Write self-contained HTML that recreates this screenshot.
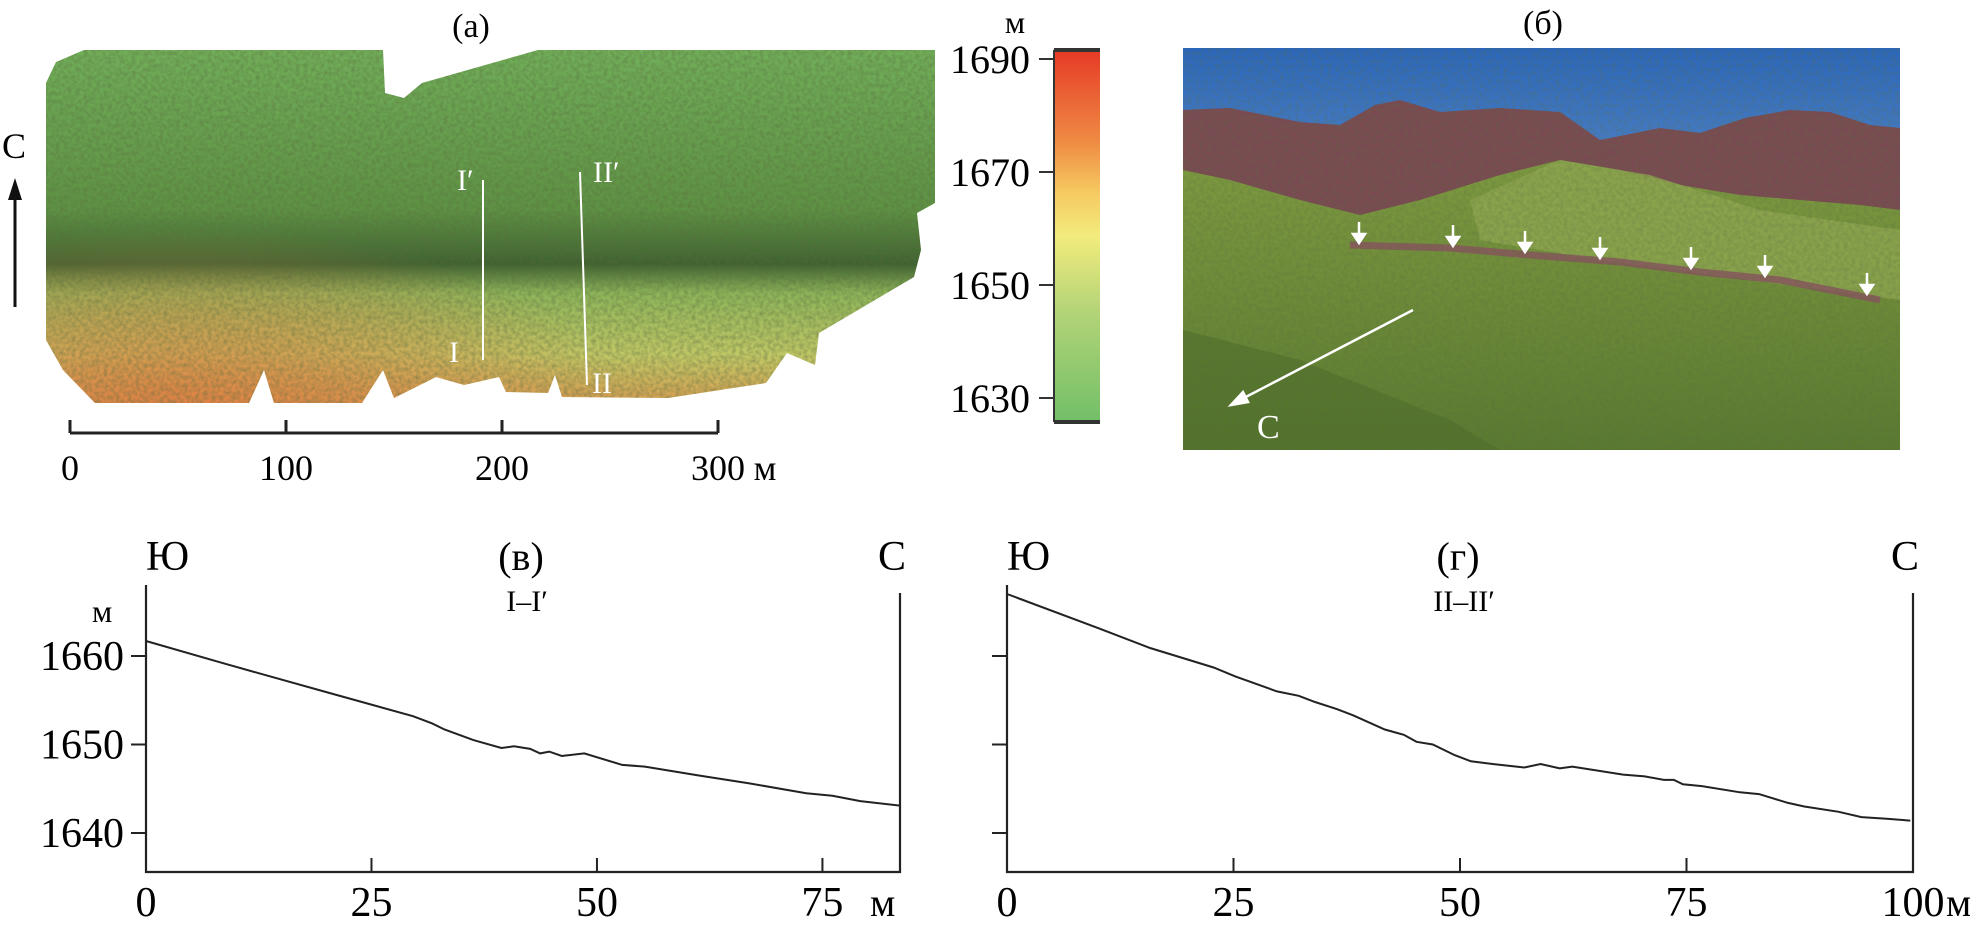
<!DOCTYPE html>
<html><head><meta charset="utf-8"><style>
html,body{margin:0;padding:0;background:#fff;}
svg{display:block;font-family:"Liberation Serif","DejaVu Serif",serif;}
</style></head><body>
<svg id="fig" width="1970" height="930" viewBox="0 0 1970 930" xmlns="http://www.w3.org/2000/svg">
<defs>
<linearGradient id="mapg" x1="0" y1="0" x2="0" y2="1">
<stop offset="0" stop-color="#72b05a"/><stop offset="0.45" stop-color="#5e9244"/>
<stop offset="0.6" stop-color="#3f6230"/><stop offset="0.68" stop-color="#8eb55a"/>
<stop offset="0.85" stop-color="#c2c866"/><stop offset="1" stop-color="#d89850"/>
</linearGradient>
<radialGradient id="orng" cx="0.15" cy="1" r="0.5"><stop offset="0" stop-color="#e07a40" stop-opacity="0.8"/><stop offset="1" stop-color="#e07a40" stop-opacity="0"/></radialGradient>
<filter id="tex" x="0" y="0" width="1" height="1"><feTurbulence type="fractalNoise" baseFrequency="0.25" numOctaves="2" seed="3"/><feColorMatrix values="0 0 0 0 0.1 0 0 0 0 0.15 0 0 0 0 0.05 0 0 0 -1.6 1.1"/></filter>
<clipPath id="mapclip"><polygon points="56,62 84,50 383,50 385,93 404,98 422,83 538,50 935,50 935,203 917,213 921,250 914,277 819,333 815,365 787,353 766,383 668,398 562,397 555,375 548,393 506,392 499,377 464,385 436,377 394,398 383,370 362,403 274,403 264,370 249,403 95,403 63,370 46,340 46,83"/></clipPath>
<clipPath id="photoclip"><rect x="1183" y="48" width="717" height="402"/></clipPath>
<linearGradient id="cbar" x1="0" y1="1" x2="0" y2="0">
<stop offset="0" stop-color="#72bf68"/><stop offset="0.3" stop-color="#b4d477"/><stop offset="0.5" stop-color="#f2ec7c"/>
<stop offset="0.62" stop-color="#f6c860"/><stop offset="0.75" stop-color="#ef8c44"/><stop offset="1" stop-color="#e63a26"/>
</linearGradient>
<linearGradient id="sky" x1="0" y1="0" x2="0" y2="1"><stop offset="0" stop-color="#2a66bd"/><stop offset="1" stop-color="#9cc1e4"/></linearGradient>
<linearGradient id="grass" x1="0" y1="0" x2="0" y2="1"><stop offset="0" stop-color="#7e9a40"/><stop offset="1" stop-color="#5a7a30"/></linearGradient>
</defs>

<!-- Panel a -->
<text x="471" y="37" font-size="34" text-anchor="middle">(а)</text>
<g clip-path="url(#mapclip)">
<rect x="40" y="45" width="900" height="365" fill="url(#mapg)"/>
<rect x="40" y="45" width="900" height="365" fill="url(#orng)"/>
<rect x="40" y="45" width="900" height="365" filter="url(#tex)" opacity="0.5"/>
</g>
<line x1="483" y1="180" x2="483" y2="360" stroke="#fff" stroke-width="2"/>
<line x1="580" y1="172" x2="587" y2="385" stroke="#fff" stroke-width="2"/>
<g fill="#fff" font-size="30">
<text x="457" y="190">I′</text><text x="593" y="182">II′</text>
<text x="449" y="362">I</text><text x="592" y="393">II</text></g>
<text x="2" y="158" font-size="36">С</text>
<line x1="15" y1="307" x2="15" y2="195" stroke="#111" stroke-width="3"/>
<polygon points="15,178 8,200 22,200" fill="#111"/>
<g stroke="#222" stroke-width="3">
<line x1="70" y1="433" x2="718" y2="433"/>
<line x1="70" y1="420" x2="70" y2="433"/><line x1="286" y1="420" x2="286" y2="433"/>
<line x1="502" y1="420" x2="502" y2="433"/><line x1="718" y1="420" x2="718" y2="433"/></g>
<g font-size="36" text-anchor="middle">
<text x="70" y="480">0</text><text x="286" y="480">100</text><text x="502" y="480">200</text><text x="718" y="480">300</text>
<text x="765" y="480">м</text></g>

<!-- colorbar -->
<text x="1015" y="33" font-size="32" text-anchor="middle">м</text>
<rect x="1054" y="50" width="46" height="372" fill="url(#cbar)"/>
<line x1="1054" y1="50" x2="1100" y2="50" stroke="#333" stroke-width="4"/>
<line x1="1054" y1="422" x2="1100" y2="422" stroke="#333" stroke-width="4"/>
<line x1="1054" y1="50" x2="1054" y2="422" stroke="#333" stroke-width="2"/>
<g id="cbticks" font-size="40" text-anchor="end"></g>

<!-- Panel b photo -->
<text x="1543" y="34" font-size="34" text-anchor="middle">(б)</text>
<g clip-path="url(#photoclip)">
<rect x="1183" y="48" width="717" height="402" fill="url(#sky)"/>
<polygon points="1183,110 1230,108 1300,122 1340,125 1375,105 1400,100 1440,112 1500,108 1560,112 1600,140 1660,128 1700,133 1745,118 1790,110 1830,112 1870,125 1900,128 1900,240 1183,240" fill="#7a4a52"/>
<polygon points="1183,240 1183,170 1230,180 1300,200 1360,215 1420,200 1500,175 1560,160 1620,170 1680,185 1740,195 1800,200 1860,205 1900,210 1900,450 1183,450" fill="url(#grass)"/>
<polygon points="1470,200 1560,160 1650,175 1760,210 1900,230 1900,300 1600,260 1480,240" fill="#8ea650" opacity="0.8"/>
<polygon points="1183,450 1183,330 1300,360 1450,420 1500,450" fill="#4f6e2a" opacity="0.6"/>
<polyline points="1350,245 1450,248 1530,255 1620,262 1700,272 1780,280 1880,300" fill="none" stroke="#8a5060" stroke-width="7" opacity="0.8"/>
<rect x="1183" y="48" width="717" height="402" filter="url(#tex)" opacity="0.35"/>
<g stroke="#fff" stroke-width="2.5" fill="#fff">
<line x1="1359" y1="222" x2="1359" y2="236"/><polygon points="1353,234 1365,234 1359,243"/>
<line x1="1453" y1="225" x2="1453" y2="239"/><polygon points="1447,237 1459,237 1453,246"/>
<line x1="1525" y1="231" x2="1525" y2="245"/><polygon points="1519,243 1531,243 1525,252"/>
<line x1="1600" y1="237" x2="1600" y2="251"/><polygon points="1594,249 1606,249 1600,258"/>
<line x1="1691" y1="247" x2="1691" y2="261"/><polygon points="1685,259 1697,259 1691,268"/>
<line x1="1765" y1="255" x2="1765" y2="269"/><polygon points="1759,267 1771,267 1765,276"/>
<line x1="1867" y1="273" x2="1867" y2="287"/><polygon points="1861,285 1873,285 1867,294"/>
<line x1="1413" y1="310" x2="1240" y2="400"/><polygon points="1231,405 1243,392 1248,402"/>
</g>
<text x="1257" y="438" font-size="34" fill="#fff">С</text>
</g>

<!-- Chart в -->
<g id="chartV"></g>
<!-- Chart г -->
<g id="chartG"></g>
</svg>
<script>
const cbTicks = [1630, 1650, 1670, 1690];
const p1Dist = [0,8.5,19.7,29.6,31.7,33.1,36.3,39.4,40.8,42.6,43.7,44.7,46.1,48.6,52.8,55.3,61.3,66.9,73.2,76.1,79.2,83.6];
const p1Elev = [1661.7,1659.2,1656.0,1653.2,1652.4,1651.7,1650.5,1649.6,1649.8,1649.5,1649.0,1649.2,1648.7,1649.0,1647.7,1647.5,1646.5,1645.6,1644.5,1644.2,1643.6,1643.1];
const p2Dist = [0,10.2,15.8,22.8,25.2,29.8,32.2,34.0,36.4,38.2,41.7,43.8,45.2,47.0,49.4,51.2,53.6,57.1,58.9,61.0,62.4,68.0,70.4,72.5,73.6,74.6,76.7,80.9,83.0,86.2,88.0,91.8,94.3,97.1,99.7];
const p2Elev = [1667.0,1663.1,1660.9,1658.7,1657.7,1656.0,1655.5,1654.8,1654.0,1653.3,1651.7,1651.1,1650.3,1650.0,1648.8,1648.1,1647.8,1647.4,1647.8,1647.3,1647.5,1646.6,1646.4,1646.0,1646.0,1645.5,1645.3,1644.6,1644.4,1643.4,1643.0,1642.4,1641.8,1641.6,1641.4];
const yTicks = [1640, 1650, 1660];
const x1Ticks = [0, 25, 50, 75];
const x2Ticks = [0, 25, 50, 75, 100];

const NS = 'http://www.w3.org/2000/svg';
function mk(tag, attrs, parent, txt){const e=document.createElementNS(NS,tag);for(const k in attrs)e.setAttribute(k,attrs[k]);if(txt!==undefined)e.textContent=txt;parent.appendChild(e);return e;}

const cbg=document.getElementById('cbticks');
const cbY=v=>398-(v-1630)*(398-59)/60;
cbTicks.forEach(v=>{
  const l=mk('line',{x1:1039,y1:cbY(v),x2:1054,y2:cbY(v),stroke:'#333','stroke-width':2},cbg);
  
  
  const t=mk('text',{x:1030,y:cbY(v)+14},cbg,String(v));
  
  
});

function chart(g, x0, x1, xmax, dist, elev, xt, showY, opts){
  const yb=872, yOf=v=>656+(1660-v)*8.85, xOf=d=>x0+(x1-x0)*d/xmax;
  const ax=mk('path',{d:`M${x0},585 L${x0},${yb} L${x1},${yb} L${x1},593`,fill:'none',stroke:'#222','stroke-width':2.2},g);
  
  
  yTicks.forEach(v=>{
    const l=mk('line',{x1:x0-15,y1:yOf(v),x2:x0,y2:yOf(v),stroke:'#222','stroke-width':2},g);
    
    
    if(showY){const t=mk('text',{x:x0-22,y:yOf(v)+14,'font-size':42,'text-anchor':'end'},g,String(v));
      
      }
  });
  xt.forEach(v=>{
    const x=xOf(v);
    if(v>0 && v<xmax-0.5){const l=mk('line',{x1:x,y1:yb-14,x2:x,y2:yb,stroke:'#222','stroke-width':2},g);
      
      }
    const t=mk('text',{x:x,y:916,'font-size':42,'text-anchor':'middle'},g,String(v));
    
    
  });
  const pts=dist.map((d,i)=>xOf(d).toFixed(1)+','+yOf(elev[i]).toFixed(1)).join(' ');
  const pl=mk('polyline',{points:pts,fill:'none',stroke:'#222','stroke-width':2},g);
  
  
  const a=mk('text',{x:x0,y:570,'font-size':42},g,'Ю');
  
  
  const b=mk('text',{x:x1-22,y:570,'font-size':42},g,'С');
  
  
  const c=mk('text',{x:opts.cx,y:570,'font-size':40,'text-anchor':'middle'},g,opts.label);
  
  
  const d=mk('text',{x:opts.cx+6,y:611,'font-size':30,'text-anchor':'middle'},g,opts.prof);
  
  
  const u=mk('text',{x:opts.ux,y:916,'font-size':40},g,'м');
  
  
}
chart(document.getElementById('chartV'),146,900,83.6,p1Dist,p1Elev,x1Ticks,true,{cx:521,label:'(в)',prof:'I–I′',ux:870});
chart(document.getElementById('chartG'),1007,1913,100,p2Dist,p2Elev,x2Ticks,false,{cx:1458,label:'(г)',prof:'II–II′',ux:1946});
const ym=mk('text',{x:92,y:622,'font-size':32},document.getElementById('chartV'),'м');


</script>
</body></html>
